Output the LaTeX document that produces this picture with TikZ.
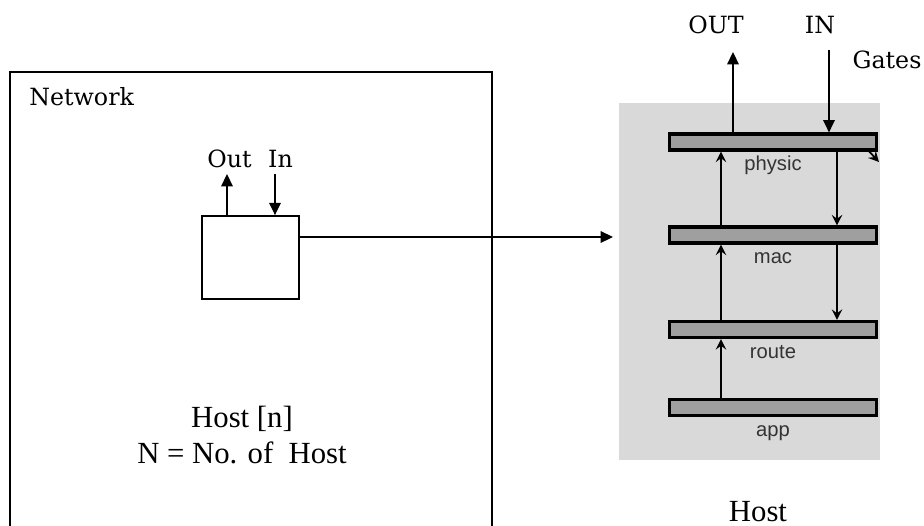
\documentclass[tikz,border=0pt]{standalone}
\usepackage{fontspec}
\setmainfont{Liberation Serif}
\newfontfamily\gatefont{DejaVu Serif}
\newfontfamily\layerfont{Liberation Sans}
\usetikzlibrary{arrows.meta, positioning}

\begin{document}
\begin{tikzpicture}[
    x=0.02cm, y=-0.02cm,
    frame/.style={draw, line width=1pt, minimum width=9.64cm, minimum height=9.8cm, inner sep=0pt},
    hostbox/.style={draw, line width=1pt, minimum width=1.94cm, minimum height=1.66cm, inner sep=0pt},
    view/.style={fill=gray!30, minimum width=5.22cm, minimum height=7.14cm, inner sep=0pt},
    bar/.style={draw, fill=gray!75, line width=1.8pt, minimum width=4.15cm, minimum height=0.32cm, inner sep=0pt},
    gatelbl/.style={font=\gatefont\fontsize{13.5}{16}\selectfont, inner sep=0pt, anchor=base},
    layerlbl/.style={font=\layerfont\fontsize{11.5}{14}\selectfont, text=black!80, inner sep=0pt},
    bigtxt/.style={font=\fontsize{17.5}{20.5}\selectfont, align=center, inner sep=0pt},
    gatearr/.style={-{Triangle[length=7pt, width=6.5pt]}, line width=1pt},
    layerarr/.style={-{Stealth[length=6pt, width=6pt, inset=2.2pt]}, line width=1pt},
]
\path[use as bounding box, clip] (0,0) rectangle (924,525);

% network side
\node[frame] (network) at (251,317) {};
\node[gatelbl, anchor=base west] (netlbl) at (29,105) {Network};
\node[hostbox] (host) at (250.5,257.5) {};
\node[gatelbl] (outlbl) at (229.5,167) {Out};
\node[gatelbl] (inlbl) at (280.5,167) {In};
\coordinate (outtip) at (227,174);
\coordinate (intop) at (275,174);
\draw[gatearr] (host.north -| outtip) -- (outtip);
\draw[gatearr] (intop) -- (host.north -| intop);
\node[bigtxt] (hostn) at (242,435) {Host [n]\\N = No. of\ \ Host};

% host internals
\node[view] (hostview) at (749.5,281.5) {};
\coordinate (viewin) at (613,237);
\draw[gatearr] (host.east |- viewin) -- (viewin);
\coordinate (stubA) at (866,148);
\coordinate (stubB) at (879,162);
\draw[layerarr] (stubA) -- (stubB);
\foreach \name/\y in {physic/142, mac/235, route/329.5, app/407.5} {
    \node[bar] (\name) at (773,\y) {};
    \node[layerlbl, below=0.38cm of \name.south, anchor=base] (\name lbl) {\name};
}
\coordinate (upline) at (721,0);
\coordinate (downline) at (837,0);
\draw[layerarr] (mac.north -| upline) -- (physic.south -| upline);
\draw[layerarr] (route.north -| upline) -- (mac.south -| upline);
\draw[layerarr] (app.north -| upline) -- (route.south -| upline);
\draw[layerarr] (physic.south -| downline) -- (mac.north -| downline);
\draw[layerarr] (mac.south -| downline) -- (route.north -| downline);

% gates
\node[gatelbl] (OUTlbl) at (716,33) {OUT};
\node[gatelbl] (INlbl) at (820,33) {IN};
\node[gatelbl] (gateslbl) at (887,68) {Gates};
\coordinate (outgate) at (733,52);
\coordinate (ingate) at (829,50);
\draw[gatearr] (physic.north -| outgate) -- (outgate);
\draw[gatearr] (ingate) -- (physic.north -| ingate);
\node[bigtxt, anchor=base] (hostlbl) at (758,521) {Host};
\end{tikzpicture}
\end{document}
